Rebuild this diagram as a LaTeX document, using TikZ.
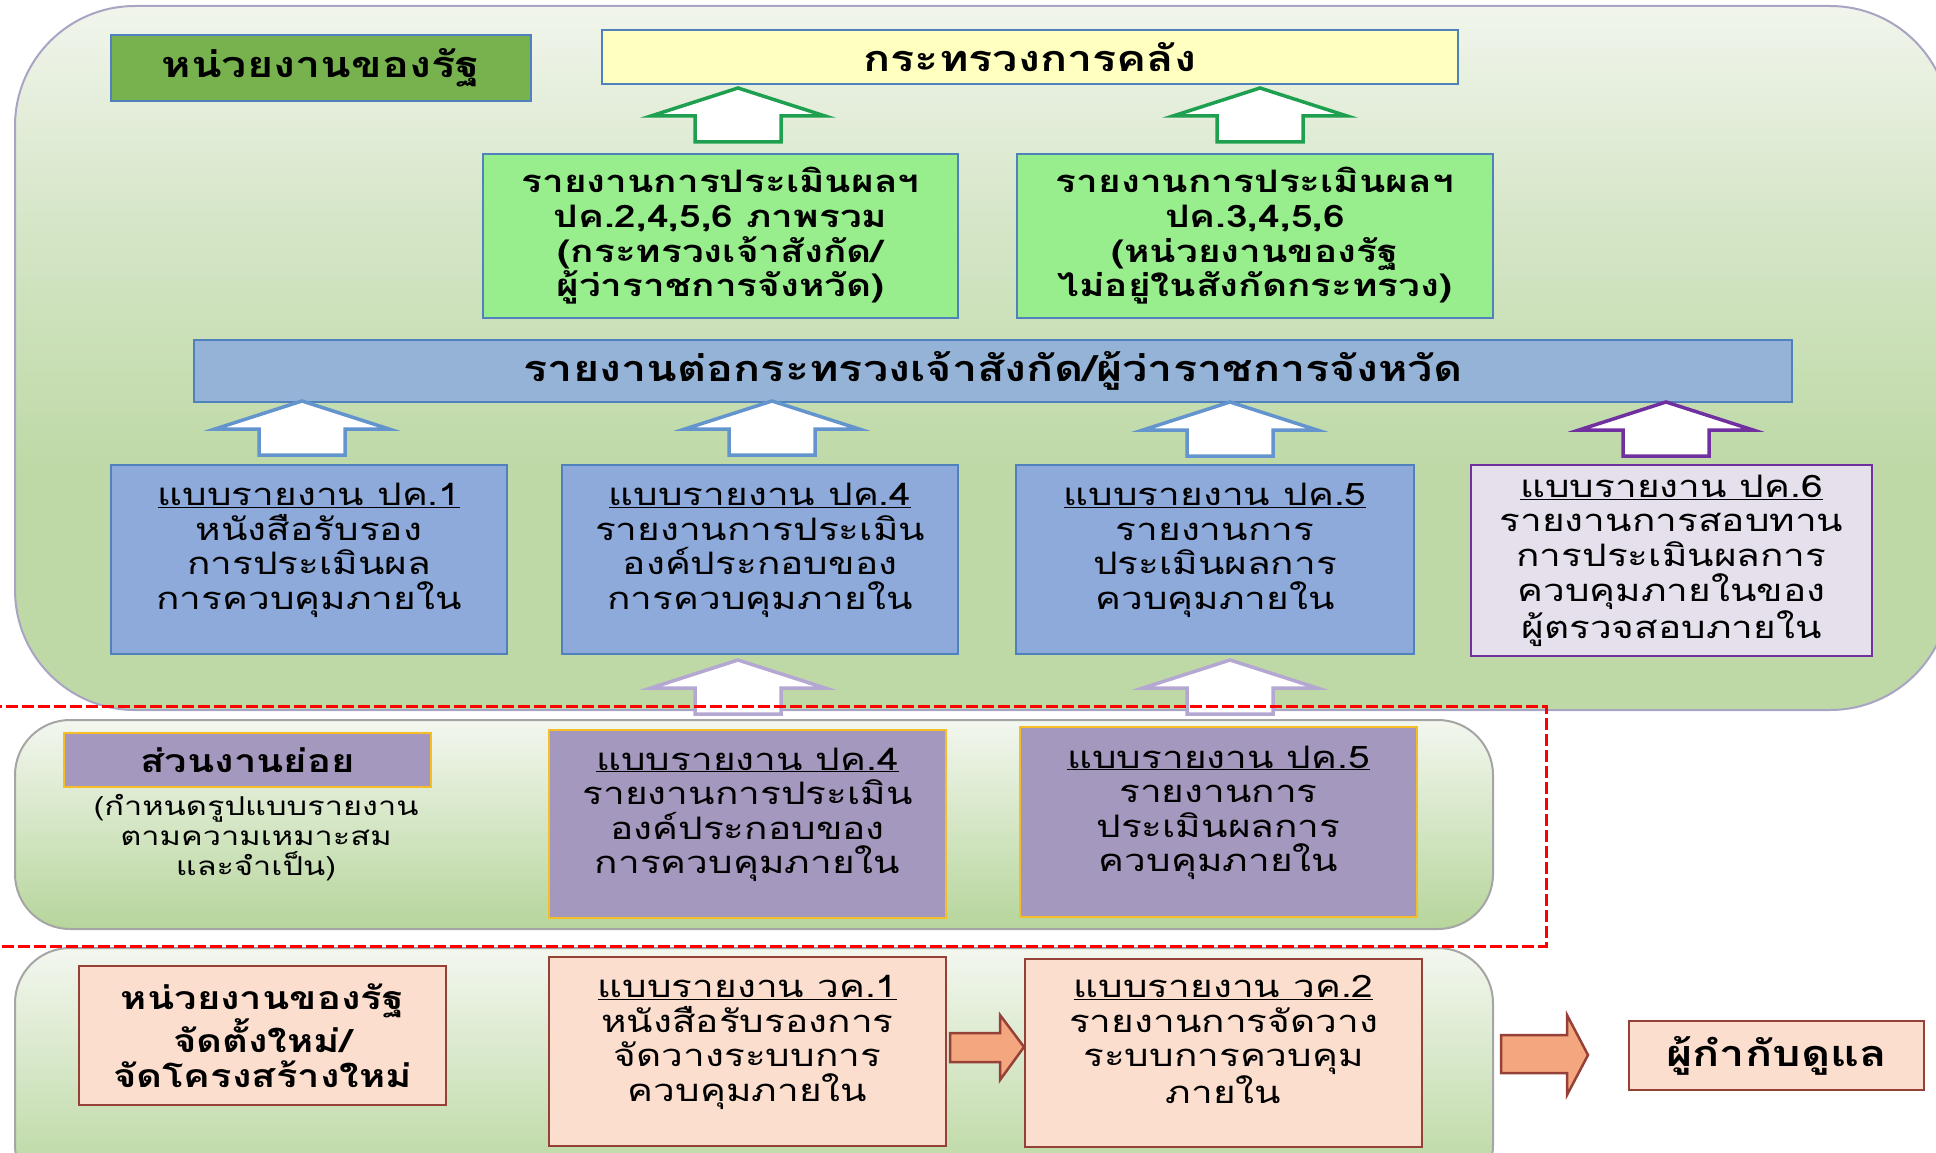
\documentclass[tikz,border=0pt]{standalone}
\usepackage{fontspec}
\setmainfont[Script=Thai, FakeStretch=1.25]{Loma}
\usetikzlibrary{calc}

\definecolor{panelpale}{RGB}{241,245,236}
\definecolor{panelmid}{RGB}{214,230,200}
\definecolor{panelgreen}{RGB}{190,217,166}
\definecolor{panelline}{RGB}{168,164,196}
\definecolor{lowpale}{RGB}{243,247,239}
\definecolor{lowgreen}{RGB}{182,213,155}
\definecolor{lowline}{RGB}{165,165,165}
\definecolor{govgreen}{RGB}{119,178,78}
\definecolor{boxblue}{RGB}{79,129,189}
\definecolor{mofyellow}{RGB}{255,255,191}
\definecolor{repgreen}{RGB}{152,238,140}
\definecolor{barblue}{RGB}{149,179,215}
\definecolor{pkblue}{RGB}{142,170,219}
\definecolor{pksixfill}{RGB}{229,224,236}
\definecolor{pksixline}{RGB}{112,48,160}
\definecolor{subfill}{RGB}{165,152,190}
\definecolor{subline}{RGB}{245,190,40}
\definecolor{peach}{RGB}{251,222,205}
\definecolor{peachline}{RGB}{150,65,55}
\definecolor{orangefill}{RGB}{244,166,126}
\definecolor{arrgreen}{RGB}{30,160,80}
\definecolor{arrblue}{RGB}{100,148,205}
\definecolor{arrlav}{RGB}{180,168,210}

\pgfdeclareverticalshading{toppanel}{100bp}{color(0bp)=(panelgreen); color(25bp)=(panelgreen); color(42bp)=(panelgreen); color(60bp)=(panelmid); color(75bp)=(panelpale); color(100bp)=(panelpale)}
\pgfdeclareverticalshading{lowpanel}{100bp}{color(0bp)=(lowgreen); color(25bp)=(lowgreen); color(75bp)=(lowpale); color(100bp)=(lowpale)}

\newcommand\hdfont{\fontsize{36}{40}\selectfont\bfseries}
\newcommand\hdsmall{\fontsize{32}{34.6}\selectfont\bfseries}
\newcommand\rptfont{\fontsize{31}{34.6}\selectfont\bfseries}
\newcommand\bdfont{\fontsize{31}{34.6}\selectfont}
\newcommand\ntfont{\fontsize{26}{30}\selectfont}

\tikzset{
  card/.style={draw=boxblue, line width=2.5pt, inner sep=0pt, outer sep=0pt, anchor=north west, align=center},
  uparr/.pic={\path[pic actions] (-43,0) -- (-43,-26) -- (-87,-26) -- (0,-54) -- (87,-26) -- (43,-26) -- (43,0) -- cycle;}
}

\begin{document}
\begin{tikzpicture}[x=1pt,y=-1pt,line join=miter]
\useasboundingbox (0,0) rectangle (1936,1153);
\clip (0,0) rectangle (1936,1153);

% panels
\path[draw=panelline, line width=2pt, shading=toppanel, rounded corners=120pt] (15,6) rectangle (1950,710);
\path[draw=lowline, line width=2pt, shading=lowpanel, rounded corners=55pt] (15,720) rectangle (1493,929);
\path[draw=lowline, line width=2pt, shading=lowpanel, rounded corners=55pt] (15,948) rectangle (1493,1200);

% top level
\node[card, fill=govgreen, minimum width=420, minimum height=66, font=\hdfont] (gov) at (111,35) {หน่วยงานของรัฐ};
\node[card, fill=mofyellow, minimum width=856, minimum height=54, font=\hdfont] (mof) at (602,30) {กระทรวงการคลัง};

\node[card, fill=repgreen, minimum width=475, minimum height=164, font=\rptfont] (repa) at (483,154)
  {รายงานการประเมินผลฯ\\ปค.2,4,5,6 ภาพรวม\\(กระทรวงเจ้าสังกัด/\\ผู้ว่าราชการจังหวัด)};
\node[card, fill=repgreen, minimum width=476, minimum height=164, font=\rptfont] (repb) at (1017,154)
  {รายงานการประเมินผลฯ\\ปค.3,4,5,6\\(หน่วยงานของรัฐ\\ไม่อยู่ในสังกัดกระทรวง)};

\node[card, fill=barblue, minimum width=1598, minimum height=62, font=\hdfont] (bar) at (194,340)
  {รายงานต่อกระทรวงเจ้าสังกัด/ผู้ว่าราชการจังหวัด};

\node[card, fill=pkblue, minimum width=396, minimum height=189, font=\bdfont] (pka) at (111,465)
  {\underline{แบบรายงาน ปค.1}\\หนังสือรับรอง\\การประเมินผล\\การควบคุมภายใน\\[-8pt]~};
\node[card, fill=pkblue, minimum width=396, minimum height=189, font=\bdfont] (pkd) at (562,465)
  {\underline{แบบรายงาน ปค.4}\\รายงานการประเมิน\\องค์ประกอบของ\\การควบคุมภายใน\\[-8pt]~};
\node[card, fill=pkblue, minimum width=398, minimum height=189, font=\bdfont] (pke) at (1016,465)
  {\underline{แบบรายงาน ปค.5}\\รายงานการ\\ประเมินผลการ\\ควบคุมภายใน\\[-8pt]~};
\node[card, draw=pksixline, fill=pksixfill, minimum width=401, minimum height=191, font=\bdfont] (pkf) at (1471,465)
  {\underline{แบบรายงาน ปค.6}\\รายงานการสอบทาน\\การประเมินผลการ\\ควบคุมภายในของ\\ผู้ตรวจสอบภายใน};

% sub units
\node[card, draw=subline, fill=subfill, minimum width=367, minimum height=54, font=\hdsmall] (sub) at (64,733) {ส่วนงานย่อย};
\node[align=center, font=\ntfont, inner sep=0pt] (subnote) at (256,838)
  {(กำหนดรูปแบบรายงาน\\ตามความเหมาะสม\\และจำเป็น)};
\node[card, draw=subline, fill=subfill, minimum width=397, minimum height=188, font=\bdfont] (spkd) at (549,730)
  {\underline{แบบรายงาน ปค.4}\\รายงานการประเมิน\\องค์ประกอบของ\\การควบคุมภายใน\\[-8pt]~};
\node[card, draw=subline, fill=subfill, minimum width=397, minimum height=190, font=\bdfont] (spke) at (1020,727)
  {\underline{แบบรายงาน ปค.5}\\รายงานการ\\ประเมินผลการ\\ควบคุมภายใน\\[-8pt]~};

% new units
\node[card, draw=peachline, fill=peach, minimum width=367, minimum height=139, font=\hdsmall] (newgov) at (79,966)
  {หน่วยงานของรัฐ\\จัดตั้งใหม่/\\จัดโครงสร้างใหม่};
\node[card, draw=peachline, fill=peach, minimum width=397, minimum height=189, font=\bdfont] (wka) at (549,957)
  {\underline{แบบรายงาน วค.1}\\หนังสือรับรองการ\\จัดวางระบบการ\\ควบคุมภายใน\\[-8pt]~};
\node[card, draw=peachline, fill=peach, minimum width=397, minimum height=188, font=\bdfont] (wkb) at (1025,959)
  {\underline{แบบรายงาน วค.2}\\รายงานการจัดวาง\\ระบบการควบคุม\\ภายใน\\[-8pt]~};
\node[card, draw=peachline, fill=peach, minimum width=295, minimum height=69, font=\hdfont] (reg) at (1629,1021) {ผู้กำกับดูแล};

% block arrows
\pic[draw=arrgreen, fill=white, line width=3.5pt] at (738,142) {uparr};
\pic[draw=arrgreen, fill=white, line width=3.5pt] at (1260,142) {uparr};
\pic[draw=arrblue, fill=white, line width=3.5pt] at (302,455) {uparr};
\pic[draw=arrblue, fill=white, line width=3.5pt] at (772,455) {uparr};
\pic[draw=arrblue, fill=white, line width=3.5pt] at (1230,456) {uparr};
\pic[draw=pksixline, fill=white, line width=3.5pt] at (1666,456) {uparr};
\pic[draw=arrlav, fill=white, line width=3.5pt] at (738,714) {uparr};
\pic[draw=arrlav, fill=white, line width=3.5pt] at (1230,714) {uparr};

\draw[draw=peachline, fill=orangefill, line width=2.5pt] (950,1033) -- (1000,1033) -- (1000,1015) -- (1024,1047) -- (1000,1080) -- (1000,1062) -- (950,1062) -- cycle;
\draw[draw=peachline, fill=orangefill, line width=2.5pt] (1501,1035) -- (1567,1035) -- (1567,1015) -- (1588,1055) -- (1567,1095) -- (1567,1073) -- (1501,1073) -- cycle;

\draw[red, line width=3pt, dash pattern=on 12pt off 4pt] (-10,706) -- (1546,706) -- (1546,946) -- (-10,946);

\end{tikzpicture}
\end{document}
